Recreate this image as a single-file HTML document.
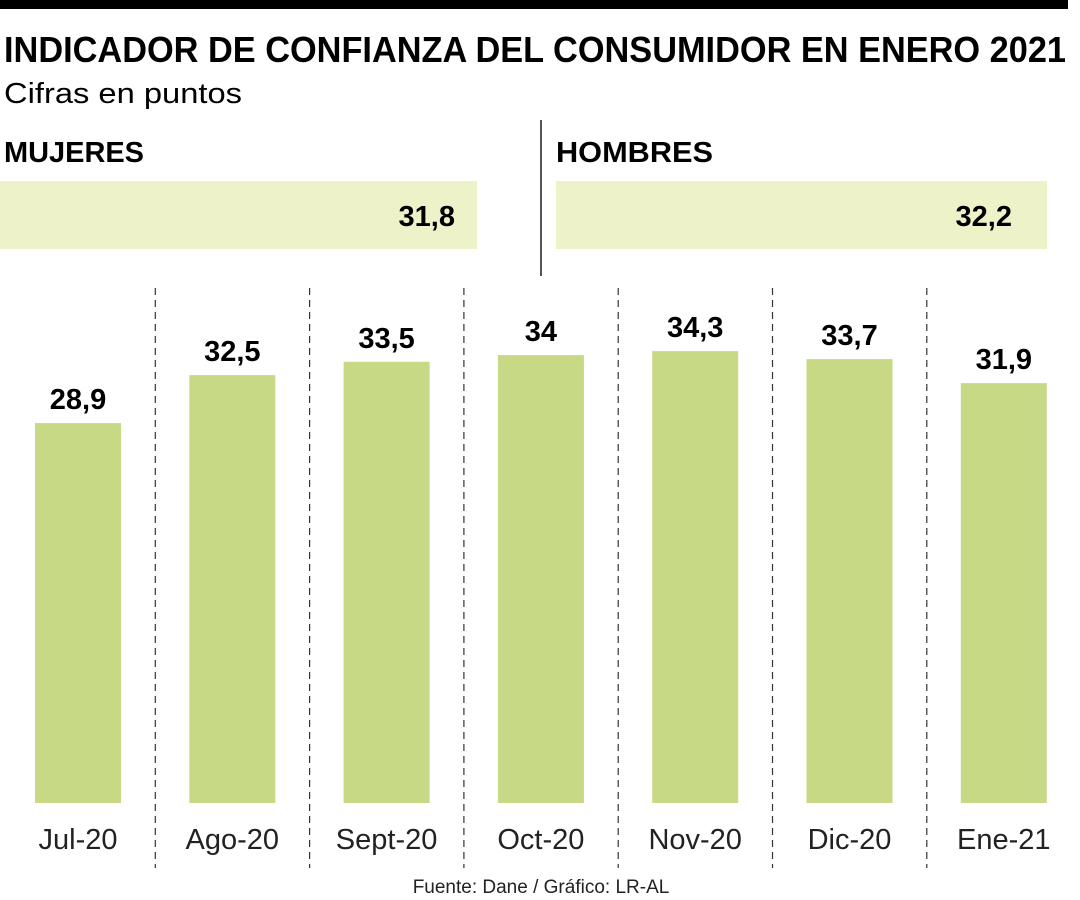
<!DOCTYPE html>
<html><head><meta charset="utf-8"><style>
body{margin:0;background:#fff;font-family:"Liberation Sans",sans-serif;}
svg{display:block}
</style></head><body>
<svg width="1080" height="900" viewBox="0 0 1080 900">
<rect x="0" y="0" width="1068" height="9" fill="#000"/>
<text x="4" y="62" font-size="36" font-weight="bold" textLength="1062" lengthAdjust="spacingAndGlyphs">INDICADOR DE CONFIANZA DEL CONSUMIDOR EN ENERO 2021</text>
<text x="4" y="103" font-size="29" textLength="238" lengthAdjust="spacingAndGlyphs">Cifras en puntos</text>
<line x1="541" y1="120" x2="541" y2="276" stroke="#555" stroke-width="2"/>
<text x="4" y="162" font-size="29" font-weight="bold" textLength="140" lengthAdjust="spacingAndGlyphs">MUJERES</text>
<rect x="0" y="181" width="477" height="68" fill="#eef2c8"/>
<text x="455" y="226" font-size="29" font-weight="bold" text-anchor="end">31,8</text>
<text x="556" y="162" font-size="29" font-weight="bold" textLength="157" lengthAdjust="spacingAndGlyphs">HOMBRES</text>
<rect x="556" y="181" width="491" height="68" fill="#eef2c8"/>
<text x="1012" y="226" font-size="29" font-weight="bold" text-anchor="end">32,2</text>
<g id="bars"></g>
<text x="541" y="893" font-size="19" text-anchor="middle" fill="#222">Fuente: Dane / Gráfico: LR-AL</text>
</svg>
<script>
const categories=["Jul-20","Ago-20","Sept-20","Oct-20","Nov-20","Dic-20","Ene-21"];
const values=[28.9,32.5,33.5,34,34.3,33.7,31.9];
const valueLabels=["28,9","32,5","33,5","34","34,3","33,7","31,9"];
const NS="http://www.w3.org/2000/svg";
const g=document.getElementById('bars');
function xBand(i){return 35+i*154.3;}
function yVal(v){return 803-(v-0.4)*13.33;}
function mk(t,a){const e=document.createElementNS(NS,t);for(const k in a)e.setAttribute(k,a[k]);g.appendChild(e);return e;}
for(let i=1;i<categories.length;i++){
  const x=xBand(i)-34;
  const l=mk('line',{x1:x,y1:288,x2:x,y2:868,stroke:'#333','stroke-width':1.2,'stroke-dasharray':'7,5'});
  
  
}
categories.forEach((c,i)=>{
  const x=xBand(i),y=yVal(values[i]);
  const r=mk('rect',{x:x,y:y,width:86,height:803-y,fill:'#c8d985'});
  
  
  const t=mk('text',{x:x+43,y:y-14,'font-size':29,'font-weight':'bold','text-anchor':'middle'});
  t.textContent=valueLabels[i];
  
  
  const lb=mk('text',{x:x+43,y:849,'font-size':29,'text-anchor':'middle',fill:'#222'});
  lb.textContent=c;
  
  
});
</script>
</body></html>
